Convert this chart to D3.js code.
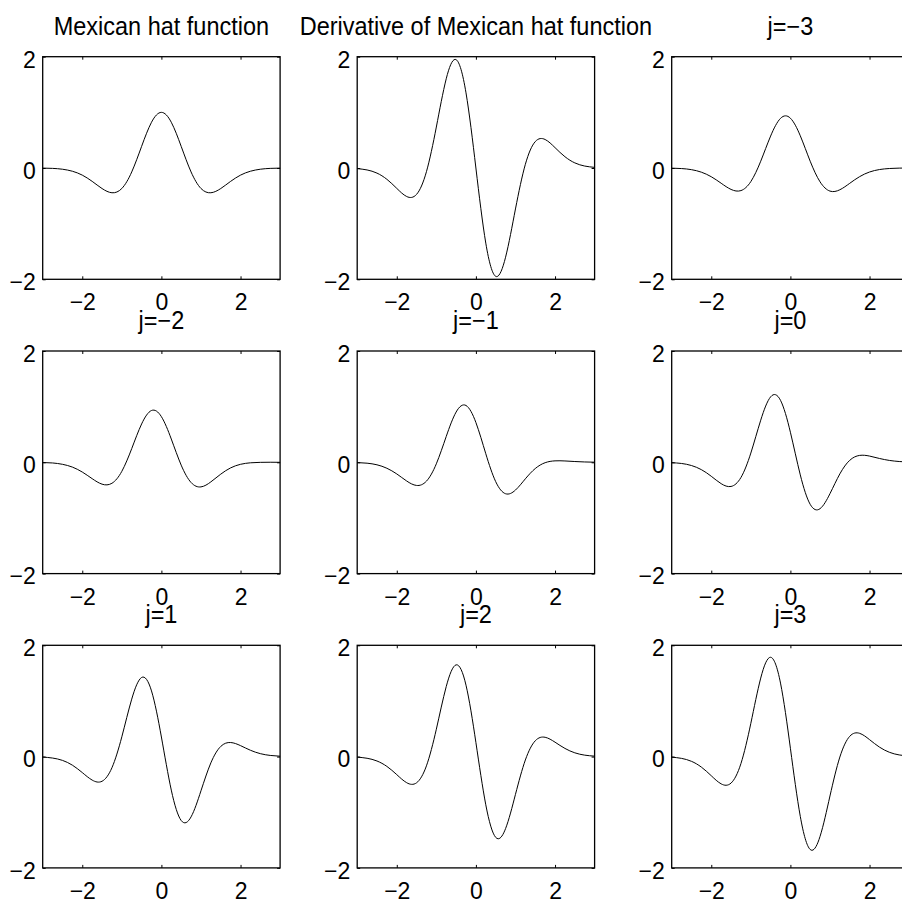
<!DOCTYPE html>
<html>
<head>
<meta charset="utf-8">
<script src="https://cdn.jsdelivr.net/npm/d3@7"></script>
<style>
  body { margin: 0; background: #fff; }
  svg { display: block; font-family: "Liberation Sans", Arial, sans-serif; }
</style>
</head>
<body>
<div id="chart"></div>
<script>
// sample positions shared by every panel
var xValues = [-3, -2.75, -2.5, -2.25, -2, -1.75, -1.5, -1.25, -1, -0.75, -0.5, -0.25, 0,
               0.25, 0.5, 0.75, 1, 1.25, 1.5, 1.75, 2, 2.25, 2.5, 2.75, 3];

var mexicanHat = [-0.002, -0.007, -0.022, -0.058, -0.128, -0.240, -0.369, -0.445, -0.368, -0.071, 0.389, 0.822, 1,
                  0.822, 0.389, -0.071, -0.368, -0.445, -0.369, -0.240, -0.128, -0.058, -0.022, -0.007, -0.002];
var mexicanHatDeriv = [-0.011, -0.035, -0.092, -0.203, -0.366, -0.512, -0.474, -0.066, 0.736, 1.603, 1.947, 1.350, 0,
                       -1.350, -1.947, -1.603, -0.736, 0.066, 0.474, 0.512, 0.366, 0.203, 0.092, 0.035, 0.011];
var jMinus3 = [-0.003, -0.010, -0.030, -0.075, -0.157, -0.274, -0.385, -0.406, -0.244, 0.122, 0.574, 0.892, 0.895,
               0.579, 0.122, -0.249, -0.415, -0.391, -0.275, -0.155, -0.072, -0.028, -0.009, -0.002, -0.001];
var jMinus2 = [-0.004, -0.012, -0.036, -0.086, -0.175, -0.294, -0.393, -0.377, -0.162, 0.246, 0.689, 0.931, 0.820,
               0.418, -0.051, -0.363, -0.442, -0.352, -0.213, -0.100, -0.036, -0.009, -0.001, 0.001, 0];
var jMinus1 = [-0.005, -0.016, -0.045, -0.107, -0.209, -0.336, -0.416, -0.339, -0.027, 0.464, 0.903, 1.021, 0.715,
               0.154, -0.347, -0.565, -0.499, -0.297, -0.112, -0.007, 0.026, 0.024, 0.014, 0.006, 0.002];
var jZero = [-0.007, -0.021, -0.058, -0.132, -0.251, -0.384, -0.434, -0.273, 0.166, 0.757, 1.176, 1.114, 0.540,
             -0.226, -0.755, -0.833, -0.564, -0.208, 0.036, 0.124, 0.112, 0.069, 0.034, 0.014, 0.004];
var jPlus1 = [-0.008, -0.026, -0.068, -0.154, -0.287, -0.422, -0.443, -0.200, 0.356, 1.033, 1.422, 1.180, 0.352,
              -0.602, -1.148, -1.083, -0.615, -0.113, 0.183, 0.253, 0.197, 0.114, 0.053, 0.021, 0.007];
var jPlus2 = [-0.009, -0.030, -0.079, -0.176, -0.324, -0.469, -0.471, -0.166, 0.492, 1.258, 1.649, 1.283, 0.254,
              -0.866, -1.451, -1.294, -0.679, -0.061, 0.284, 0.347, 0.259, 0.147, 0.068, 0.026, 0.008];
var jPlus3 = [-0.010, -0.032, -0.085, -0.189, -0.344, -0.490, -0.476, -0.125, 0.598, 1.411, 1.785, 1.321, 0.150,
              -1.074, -1.669, -1.433, -0.708, -0.008, 0.365, 0.418, 0.305, 0.171, 0.078, 0.030, 0.010];

var panelTitles = ["Mexican hat function", "Derivative of Mexican hat function", "j=\u22123",
                   "j=\u22122", "j=\u22121", "j=0",
                   "j=1", "j=2", "j=3"];
var panelSeries = [mexicanHat, mexicanHatDeriv, jMinus3, jMinus2, jMinus1, jZero, jPlus1, jPlus2, jPlus3];

var xTickValues = [-2, 0, 2];
var yTickValues = [-2, 0, 2];

function draw(tag) {
  var width = 902, height = 907;
  var layout = {left: 42.7, top: 56.7, w: 237.4, h: 222.6, stepX: 314.5, stepY: 294.3};

  var svg = d3.select(tag).append("svg")
      .attr("width", width)
      .attr("height", height);

  var x = d3.scaleLinear().domain([-3, 3]).range([0, layout.w]);
  var y = d3.scaleLinear().domain([-2, 2]).range([layout.h, 0]);
  var fmt = d3.format("d");

  var line = d3.line()
      .x((d, i) => x(xValues[i]))
      .y(d => y(d))
      .curve(d3.curveNatural);

  panelSeries.forEach(function (series, i) {
    var col = i % 3, row = Math.floor(i / 3);
    var g = svg.append("g")
        .attr("transform", `translate(${layout.left + col * layout.stepX},${layout.top + row * layout.stepY})`);

    // inward ticks on all four sides, labels only bottom/left
    g.append("g")
        .attr("transform", `translate(0,${layout.h})`)
        .call(d3.axisBottom(x).tickValues(xTickValues).tickSize(-3).tickPadding(14.7).tickFormat(fmt));
    g.append("g")
        .call(d3.axisTop(x).tickValues(xTickValues).tickSize(-3).tickFormat(""));
    var left = g.append("g")
        .call(d3.axisLeft(y).tickValues(yTickValues).tickSize(-3).tickPadding(7).tickFormat(fmt));
    g.append("g")
        .attr("transform", `translate(${layout.w},0)`)
        .call(d3.axisRight(y).tickValues(yTickValues).tickSize(-3).tickFormat(""));

    g.selectAll(".domain").remove();
    g.selectAll(".tick line").attr("stroke", "#000").attr("stroke-width", 1);
    g.selectAll(".tick text")
        .attr("fill", "#000")
        .style("font-size", "23px")
        .style("font-family", "'Liberation Sans', Arial, sans-serif");
    left.selectAll(".tick text").attr("dy", "0.45em");

    g.append("rect")
        .attr("width", layout.w)
        .attr("height", layout.h)
        .attr("fill", "none")
        .attr("stroke", "#000")
        .attr("stroke-width", 1.3);

    g.append("path")
        .datum(series)
        .attr("fill", "none")
        .attr("stroke", "#000")
        .attr("stroke-width", 1)
        .attr("d", line);

    // titles look slightly taller than the ticks in the original
    g.append("text")
        .attr("transform", `translate(${layout.w / 2},-22) scale(1,1.08)`)
        .attr("text-anchor", "middle")
        .style("font-size", "23.5px")
        .text(panelTitles[i]);
  });
}

draw("#chart");
</script>
</body>
</html>
